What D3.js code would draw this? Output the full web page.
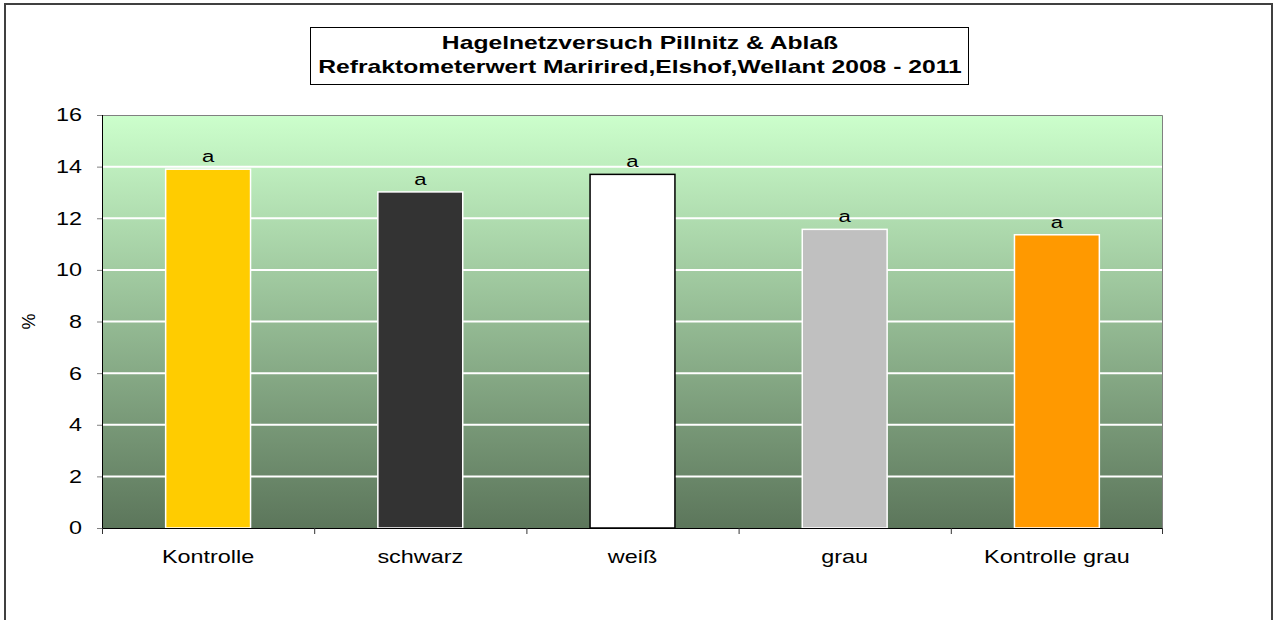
<!DOCTYPE html>
<html>
<head>
<meta charset="utf-8">
<script src="https://cdn.jsdelivr.net/npm/d3@7"></script>
<style>
  body { margin: 0; background: #fff; }
  svg { display: block; font-family: "Liberation Sans", Arial, sans-serif; }
</style>
</head>
<body>
<svg id="chart" width="1279" height="620"></svg>
<script>
// data
var categories = ["Kontrolle", "schwarz", "weiß", "grau", "Kontrolle grau"];
var values = [13.9, 13.02, 13.7, 11.57, 11.36];
var letters = ["a", "a", "a", "a", "a"];
var barColors = ["#ffcc00", "#333333", "#ffffff", "#c0c0c0", "#ff9900"];
var barStrokes = ["#ffffff", "#ffffff", "#000000", "#ffffff", "#ffffff"];
var yTicks = [0, 2, 4, 6, 8, 10, 12, 14, 16];
var titleLines = ["Hagelnetzversuch Pillnitz & Ablaß", "Refraktometerwert Maririred,Elshof,Wellant 2008 - 2011"];

// the original chart is stretched horizontally
var sx = 1.3;

var svg = d3.select("#chart");
var margin = {top: 115, right: 116, bottom: 92, left: 102},
    width = 1279 - margin.left - margin.right,
    height = 620 - margin.top - margin.bottom;

// outer frame
svg.append("rect")
    .attr("x", 5).attr("y", 4)
    .attr("width", 1267).attr("height", 620)
    .attr("fill", "#fff")
    .attr("stroke", "#404040")
    .attr("stroke-width", 2);

// gradient
var defs = svg.append("defs");
var grad = defs.append("linearGradient")
    .attr("id", "bg").attr("x1", 0).attr("y1", 0).attr("x2", 0).attr("y2", 1);
grad.append("stop").attr("offset", "0%").attr("stop-color", "#ccffcc");
grad.append("stop").attr("offset", "100%").attr("stop-color", "#5c765b");

// title box
svg.append("rect")
    .attr("x", 310.5).attr("y", 27.5)
    .attr("width", 658).attr("height", 57)
    .attr("fill", "#fff").attr("stroke", "#000").attr("stroke-width", 1);

svg.append("g").selectAll("text")
    .data(titleLines)
    .enter().append("text")
    .attr("transform", function(d, i) { return "translate(640," + (49 + i * 24) + ") scale(1.37,1)"; })
    .attr("text-anchor", "middle")
    .attr("font-size", "18px")
    .attr("font-weight", "bold")
    .text(function(d) { return d; });

var x = d3.scaleBand().domain(categories).range([0, width]).paddingInner(0.6).paddingOuter(0.3),
    xb = d3.scaleBand().domain(categories).range([0, width]),
    y = d3.scaleLinear().domain([0, 16]).range([height, 0]);

var g = svg.append("g")
    .attr("transform", "translate(" + margin.left + "," + margin.top + ")");

g.append("rect")
    .attr("width", width).attr("height", height)
    .attr("fill", "url(#bg)");

// gridlines
g.selectAll(".grid")
    .data(yTicks.filter(function(d) { return d > 0 && d < 16; }))
    .enter().append("line")
    .attr("x1", 0).attr("x2", width)
    .attr("y1", function(d) { return y(d); })
    .attr("y2", function(d) { return y(d); })
    .attr("stroke", "#fff")
    .attr("stroke-width", 2);

// plot border (top/right)
g.append("path")
    .attr("d", "M0,0.5H" + (width - 0.5) + "V" + height)
    .attr("fill", "none").attr("stroke", "#808080").attr("stroke-width", 1);

// bars
g.selectAll(".bar")
    .data(values)
    .enter().append("rect")
    .attr("x", function(d, i) { return x(categories[i]); })
    .attr("y", function(d) { return y(d); })
    .attr("width", x.bandwidth())
    .attr("height", function(d) { return height - y(d); })
    .attr("fill", function(d, i) { return barColors[i]; })
    .attr("stroke", function(d, i) { return barStrokes[i]; })
    .attr("stroke-width", 1.5);

// letters
g.selectAll(".lbl")
    .data(values)
    .enter().append("text")
    .attr("transform", function(d, i) {
        return "translate(" + (x(categories[i]) + x.bandwidth() / 2) + "," + (y(d) - 7) + ") scale(" + sx + ",1)";
    })
    .attr("text-anchor", "middle")
    .attr("font-size", "17px")
    .text(function(d, i) { return letters[i]; });

// y axis
var yAxis = g.append("g")
    .call(d3.axisLeft(y).tickValues(yTicks).tickSize(5).tickFormat(""));
yAxis.select(".domain").attr("stroke", "#000").attr("d", "M0.5,0V" + height);
yAxis.selectAll(".tick line").attr("stroke", "#808080");
g.selectAll(".ylbl")
    .data(yTicks)
    .enter().append("text")
    .attr("transform", function(d) { return "translate(-20," + y(d) + ") scale(" + sx + ",1)"; })
    .attr("dy", "0.36em")
    .attr("text-anchor", "end")
    .attr("font-size", "18px")
    .text(function(d) { return d; });

// x axis
var xAxis = g.append("g")
    .attr("transform", "translate(0," + height + ")");
xAxis.append("line")
    .attr("x1", 0).attr("x2", width)
    .attr("y1", 0.5).attr("y2", 0.5)
    .attr("stroke", "#000");
xAxis.selectAll(".tk")
    .data(categories.concat(["end"]))
    .enter().append("line")
    .attr("x1", function(d, i) { return i < categories.length ? xb(d) + 0.5 : width - 0.5; })
    .attr("x2", function(d, i) { return i < categories.length ? xb(d) + 0.5 : width - 0.5; })
    .attr("y1", 0).attr("y2", 6)
    .attr("stroke", "#333");
xAxis.selectAll(".xl")
    .data(categories)
    .enter().append("text")
    .attr("transform", function(d) { return "translate(" + (xb(d) + xb.bandwidth() / 2) + ",35) scale(" + sx + ",1)"; })
    .attr("text-anchor", "middle")
    .attr("font-size", "18px")
    .text(function(d) { return d; });

// y label
svg.append("text")
    .attr("transform", "translate(35," + (margin.top + height / 2) + ") rotate(-90)")
    .attr("text-anchor", "middle")
    .attr("font-size", "18px")
    .text("%");
</script>
</body>
</html>
